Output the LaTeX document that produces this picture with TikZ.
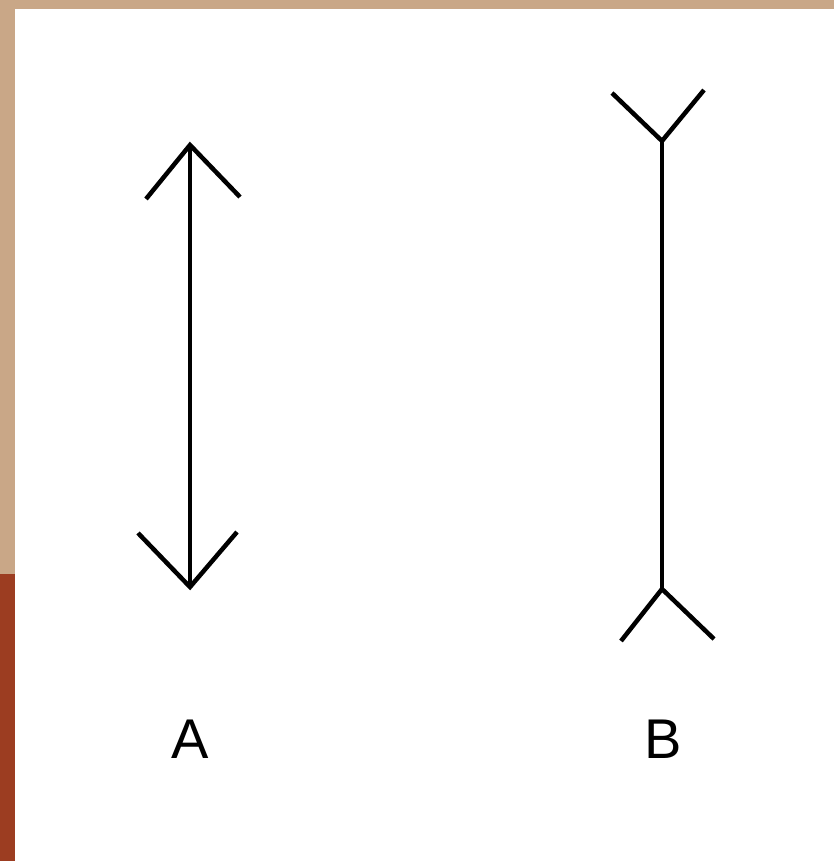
\documentclass[tikz,border=0pt]{standalone}
\usepackage{fontspec}
\setmainfont{Liberation Sans}
\usetikzlibrary{positioning}
\definecolor{tanstrip}{HTML}{C9A787}
\definecolor{ruststrip}{HTML}{9C3D21}
\tikzset{
    shaft/.style={line width=4.5pt, black},
    fin/.style={line width=4.5pt, black, line join=miter},
    letter/.style={font=\fontsize{56}{56}\selectfont, anchor=base, inner sep=0pt},
}

\begin{document}
\begin{tikzpicture}[x=1pt, y=-1pt]
                \useasboundingbox (0,0) rectangle (834,861);
                \fill[tanstrip] (0,0) rectangle (834,9);
                \fill[tanstrip] (0,0) rectangle (15,574);
                \fill[ruststrip] (0,574) rectangle (15,861);

                % figure A
                \coordinate (atop) at (190,145);
                \coordinate (abot) at (190,587);
                \draw[shaft] (atop) -- (abot);
                \draw[fin] (146,199) -- (atop) -- (240,197);
                \draw[fin] (138,533) -- (abot) -- (237,532);
                \node[letter] (la) at (190,758) {A};

                % figure B
                \coordinate (btop) at (662,141);
                \coordinate (bbot) at (662,589);
                \draw[shaft] (btop) -- (bbot);
                \draw[fin] (612,93) -- (btop) -- (704,90);
                \draw[fin] (621,641) -- (bbot) -- (714,639);
                \node[letter] (lb) at (663,758) {B};
            \end{tikzpicture}
\end{document}
